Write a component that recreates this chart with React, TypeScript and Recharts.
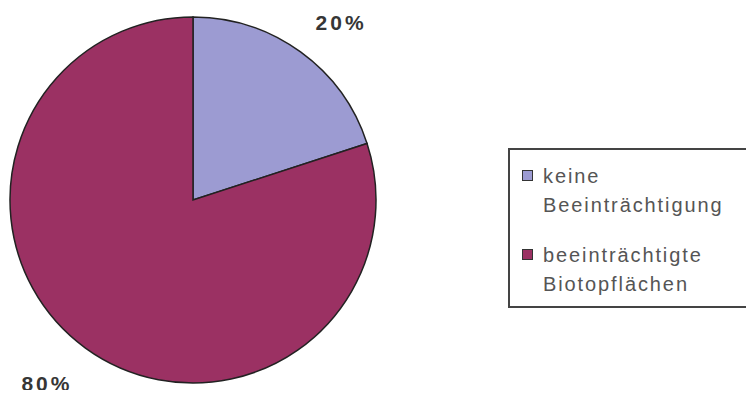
import { PieChart, Pie, Cell, Legend } from 'recharts'

const categories = ['keine Beeinträchtigung', 'beeinträchtigte Biotopflächen']
const legendLines = [['keine', 'Beeinträchtigung'], ['beeinträchtigte', 'Biotopflächen']]
const shares = [20, 80]
const COLORS = ['#9c9bd2', '#9b3163']

const data = categories.map((name, i) => ({ name, value: shares[i] }))

const RAD = Math.PI / 180

const renderLabel = (props: any) => {
  const { cx, cy, midAngle, outerRadius, value } = props
  const r = outerRadius + 40
  const cos = Math.cos(-midAngle * RAD)
  const x = cx + r * cos + (cos >= 0 ? 16 : -16)
  const y = cy + r * Math.sin(-midAngle * RAD) + 3
  return (
    <text
      x={x + 1}
      y={y}
      textAnchor="middle"
      dominantBaseline="central"
      fill="#363636"
      fontSize={21}
      fontWeight="bold"
      letterSpacing={3}
      fontFamily="'Liberation Sans', Arial, sans-serif"
    >
      {`${value}%`}
    </text>
  )
}

const renderLegend = () => (
  <div
    style={{
      border: '2px solid #444',
      width: 260,
      height: 160,
      boxSizing: 'border-box',
      padding: '12px 0 0 12px',
      fontFamily: "'Liberation Sans', Arial, sans-serif",
      fontSize: 20,
      letterSpacing: 1.9,
      color: '#555',
      lineHeight: '29px',
    }}
  >
    {legendLines.map((lines, i) => (
      <div key={i} style={{ display: 'flex', marginBottom: i === 0 ? 21 : 0 }}>
        <span
          style={{
            width: 11,
            height: 11,
            boxSizing: 'border-box',
            marginTop: 8,
            marginRight: 10,
            border: '1px solid #333',
            backgroundColor: COLORS[i],
            flexShrink: 0,
          }}
        />
        <div>
          {lines.map((l) => (
            <div key={l}>{l}</div>
          ))}
        </div>
      </div>
    ))}
  </div>
)

export default function App() {
  return (
    <div style={{ margin: -8, width: 754, height: 398, background: '#fff', overflow: 'hidden' }}>
      <PieChart width={754} height={398} margin={{ top: 0, right: 0, bottom: 0, left: 0 }}>
        <Pie
          data={data}
          dataKey="value"
          cx={193}
          cy={200}
          outerRadius={183}
          startAngle={90}
          endAngle={-270}
          stroke="#222"
          strokeWidth={1.5}
          label={renderLabel}
          labelLine={false}
          isAnimationActive={false}
        >
          {data.map((_, i) => (
            <Cell key={i} fill={COLORS[i]} />
          ))}
        </Pie>
        <Legend content={renderLegend} wrapperStyle={{ left: 508, top: 148, width: 260 }} />
      </PieChart>
    </div>
  )
}
